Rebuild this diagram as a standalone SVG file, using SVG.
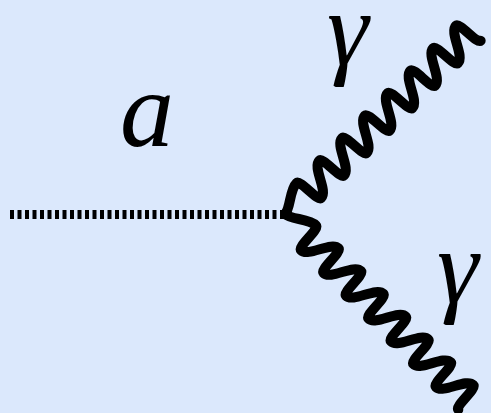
<svg xmlns="http://www.w3.org/2000/svg" width="491" height="413" viewBox="0 0 491 413">
<style>
.bg{fill:#dbe8fc}
.lbl{font-family:"Liberation Serif","Times New Roman",serif;font-style:italic;fill:#000}
.wave{fill:none;stroke:#000;stroke-width:10;stroke-linecap:round;stroke-linejoin:round}
.dash{fill:none;stroke:#000;stroke-width:9;stroke-dasharray:4 3.5}
</style>
<defs>
<path id="w" class="wave" d="M0,0 C8,0 20,-14 30,-14 C35,-14 32,14 37,14 C47,14 52,-14 62,-14 C67,-14 64,14 69,14 C79,14 84,-14 94,-14 C99,-14 96,14 101,14 C111,14 116,-14 126,-14 C131,-14 128,14 133,14 C143,14 148,-14 158,-14 C163,-14 160,14 165,14 C175,14 180,-14 190,-14 C195,-14 192,14 197,14 C207,14 212,-14 222,-14 C227,-14 224,14 229,14 C239,14 244,-14 254,-14 C259,-14 256,14 261,14"/>
</defs>
<rect class="bg" x="0" y="0" width="491" height="413"/>
<g id="connectors">
<path id="axion" class="dash" d="M10,214.5 H284"/>
<g id="photon1" transform="translate(285,214) rotate(-44.6)"><use href="#w"/></g>
<g id="photon2" transform="translate(285,214) rotate(45.4)"><use href="#w"/></g>
</g>
<g id="label-a"><text class="lbl" x="120" y="146" font-size="108">a</text></g>
<g id="label-gamma1"><text class="lbl" x="327" y="64" font-size="105">γ</text></g>
<g id="label-gamma2"><text class="lbl" x="437" y="302" font-size="105">γ</text></g>
</svg>
